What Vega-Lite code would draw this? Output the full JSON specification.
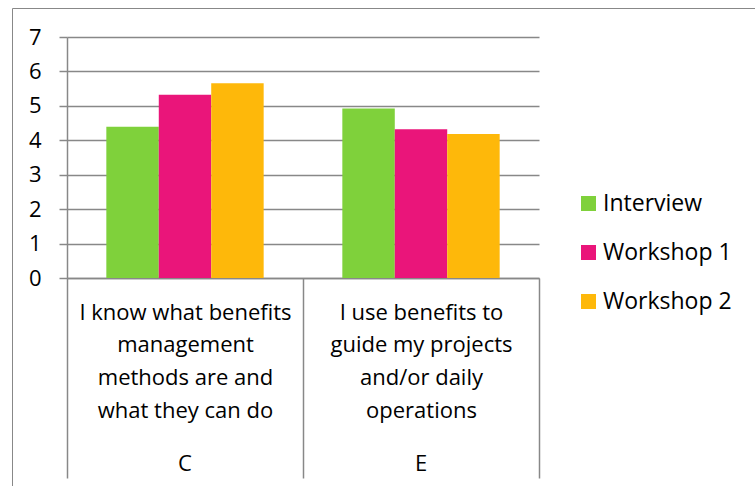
{
  "$schema": "https://vega.github.io/schema/vega-lite/v6.json",
  "autosize": "none",
  "width": 743,
  "height": 478,
  "padding": {"left": 12, "top": 8, "right": 0, "bottom": 0},
  "background": "white",
  "config": {
    "font": "Open Sans",
    "view": {"stroke": "#888888", "strokeWidth": 1},
    "axis": {"labelColor": "#000000", "labelFont": "Open Sans", "labelFontSize": 22}
  },
  "data": {
    "values": [
      {"code": "C", "series": "Interview", "score": 4.39},
      {"code": "C", "series": "Workshop 1", "score": 5.32},
      {"code": "C", "series": "Workshop 2", "score": 5.66},
      {"code": "E", "series": "Interview", "score": 4.92},
      {"code": "E", "series": "Workshop 1", "score": 4.32},
      {"code": "E", "series": "Workshop 2", "score": 4.18}
    ]
  },
  "layer": [
    {
      "mark": {"type": "bar"},
      "encoding": {
        "x": {
          "field": "code",
          "type": "nominal",
          "scale": {"range": [55, 527], "paddingInner": 0, "paddingOuter": 0},
          "axis": {
            "orient": "bottom",
            "offset": -208,
            "title": null,
            "domain": true,
            "domainColor": "#888888",
            "domainWidth": 1.5,
            "ticks": true,
            "tickBand": "extent",
            "tickSize": 200,
            "tickColor": "#888888",
            "tickWidth": 1.5,
            "labelAngle": 0,
            "labelPadding": -176,
            "labelBaseline": "top",
            "labelLineHeight": 32.7,
            "labelLimit": 0,
            "labelOverlap": false,
            "labelExpr": "datum.value == 'C' ? ['I know what benefits', 'management', 'methods are and', 'what they can do'] : datum.value == 'E' ? ['I use benefits to', 'guide my projects', 'and/or daily', 'operations'] : ''"
          }
        },
        "xOffset": {
          "field": "series",
          "type": "nominal",
          "scale": {"paddingInner": 0, "paddingOuter": 0.75}
        },
        "y": {
          "field": "score",
          "type": "quantitative",
          "scale": {"domain": [0, 7], "range": [270, 29], "nice": false, "zero": true},
          "axis": {
            "orient": "left",
            "offset": -55,
            "title": null,
            "values": [0, 1, 2, 3, 4, 5, 6, 7],
            "format": "d",
            "grid": true,
            "gridColor": "#888888",
            "gridWidth": 1.5,
            "domain": true,
            "domainColor": "#888888",
            "domainWidth": 1.5,
            "ticks": true,
            "tickSize": 8,
            "tickColor": "#888888",
            "tickWidth": 1.5,
            "labelPadding": 18
          }
        },
        "color": {
          "field": "series",
          "type": "nominal",
          "scale": {
            "domain": ["Interview", "Workshop 1", "Workshop 2"],
            "range": ["#7FD13B", "#EA157A", "#FEB80A"]
          },
          "legend": {
            "orient": "none",
            "legendX": 565,
            "legendY": 184,
            "title": null,
            "symbolType": "square",
            "symbolSize": 225,
            "symbolStrokeWidth": 0,
            "labelFontSize": 23,
            "labelFont": "Open Sans",
            "labelColor": "#000000",
            "labelOffset": 3,
            "rowPadding": 25,
            "padding": 0
          }
        }
      }
    },
    {
      "mark": {"type": "bar", "opacity": 0},
      "encoding": {
        "x": {
          "field": "code",
          "type": "nominal",
          "axis": {
            "orient": "bottom",
            "offset": -208,
            "title": null,
            "domain": false,
            "ticks": false,
            "grid": false,
            "labelAngle": 0,
            "labelPadding": 185,
            "labelBaseline": "middle",
            "labelLimit": 0
          }
        },
        "xOffset": {"field": "series", "type": "nominal"},
        "y": {"field": "score", "type": "quantitative"}
      }
    }
  ],
  "resolve": {"axis": {"x": "independent", "y": "shared"}}
}
